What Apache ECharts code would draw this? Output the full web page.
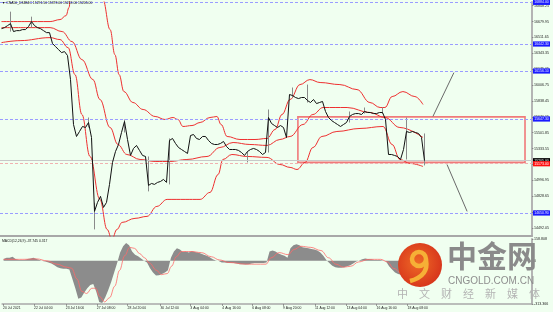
<!DOCTYPE html>
<html><head><meta charset="utf-8">
<script src="https://cdn.jsdelivr.net/npm/echarts@6/dist/echarts.min.js"></script>
<style>html,body{margin:0;padding:0;background:#F0FFF0}#c{width:553px;height:312px}</style>
</head><body><div id="c"></div><script>
// ---- data ----
const closes = [16605,16616,16637,16658,16574,16584,16584,16595,16595,16627,
 16680,16637,16616,16605,16584,16563,16563,16447,16415,16383,
 16351,16362,16320,16065,15589,15462,15515,15568,15557,15610,
 15451,14668,14763,14827,14710,14763,14954,15187,15303,15377,
 15504,15621,15430,15261,15335,15367,15314,15261,15250,14943,
 14964,14954,14975,14985,15007,14975,15420,15441,15388,15345,
 15324,15303,15282,15472,15483,15441,15430,15462,15462,15420,
 15388,15377,15377,15388,15409,15356,15324,15324,15324,15314,
 15292,15261,15303,15324,15335,15324,15303,15271,15292,15663,
 15600,15578,15557,15578,15557,15451,15907,15896,15875,15864,
 15875,15875,15843,15822,15854,15811,15822,15833,15727,15663,
 15631,15610,15589,15568,15589,15610,15674,15695,15705,15705,
 15695,15727,15716,15716,15705,15705,15716,15716,15642,15271,
 15271,15261,15250,15218,15324,15515,15504,15515,15504,15494,
 15451,15205];
// [bar, high, low]
const wicks = [[3,16785,16574],[10,16732,16616],[29,15663,15557],[31,14760,14477],[41,15642,15504],
 [49,15250,14880],[56,15441,14954],[82,15303,15187],[89,15748,15292],[97,15981,15875],[102,16012,15822],
 [116,15727,15610],[121,15769,15705],[127,15769,15705],[135,15663,15218],[141,15494,15155]];
// Bollinger bands [bar, price]
const upperBand = [[0,16680],[7.8,16680],[16.2,16680],[19.5,16701],[21.5,16743],[22.5,16828],[23.2,17018],[26.2,17336],
 [31.2,17230],[33.8,16912],[36.2,16595],[37.8,16330],[39.2,16118],[40.8,15938],[43.8,15822],[47.2,15748],[51.2,15674],
 [54.5,15642],[57.2,15663],[58.8,15642],[60.5,15568],[63.5,15578],[66.2,15610],[69.5,15663],[71.8,15674],[73.2,15589],
 [75.2,15462],[79.5,15430],[84.5,15430],[88.5,15441],[91.2,15536],[93.5,15695],[96.2,15854],[99.5,16012],[102.8,16065],
 [106.2,16034],[112.8,16012],[118.5,15959],[122.8,15822],[126.2,15769],[127.8,15769],[130.2,15885],[133.8,15938],
 [137.8,15885],[140.5,15801]];
const middleBand = [[0,16616],[9.5,16616],[16.2,16616],[20.2,16574],[23.5,16468],[26.8,16277],[30.5,16065],[32.8,15854],
 [36.2,15557],[38.8,15377],[41.8,15271],[46.2,15218],[51.2,15197],[56.2,15197],[61.8,15218],[68.5,15250],[72.8,15345],
 [77.2,15398],[82.8,15377],[88.5,15367],[92.8,15430],[96.2,15462],[100.5,15589],[103.8,15695],[107.2,15769],[115.2,15769],
 [122.8,15716],[127.8,15663],[132.8,15557],[140.5,15451]];
const lowerBand = [[0,16457],[6.2,16478],[16.2,16510],[19.5,16489],[22.2,16404],[24.5,16118],[26.8,15695],[29.5,15250],
 [32.8,14795],[35.2,14477],[36.8,14371],[38.5,14477],[40.2,14551],[44.5,14594],[48.5,14615],[51.8,14721],[55.2,14795],
 [61.2,14795],[66.2,14795],[69.5,14869],[72.2,15059],[73.8,15218],[76.8,15271],[81.8,15250],[88.5,15240],[92.8,15165],
 [96.2,15134],[98.5,15112],[101.2,15187],[103.8,15345],[106.8,15462],[111.8,15515],[119.5,15547],[127.2,15568],
 [130.2,15377],[132.8,15218],[136.2,15176],[140.5,15144]];
const macdHist = [14,22,22,30,14,7,7,7,14,18,
 22,14,7,-1,-5,-12,-20,-31,-46,-54,
 -58,-58,-62,-130,-199,-275,-267,-229,-199,-176,
 -168,-222,-298,-306,-267,-214,-153,-85,-16,60,
 106,129,114,68,45,34,18,0,-12,-54,
 -85,-107,-104,-96,-85,-69,22,68,91,83,
 64,68,60,72,64,60,53,45,37,26,
 11,3,-1,-12,-12,-16,-16,-16,-20,-24,
 -24,-27,-24,-20,-16,-16,-16,-16,-12,68,
 75,68,53,45,37,22,91,114,121,114,
 98,95,91,87,83,75,60,37,7,-16,
 -35,-46,-50,-50,-46,-39,-31,-20,-5,3,
 11,18,14,11,7,7,7,3,-5,-39,
 -62,-85,-96,-100,-92,-69,-54,-46,-42,-40,
 -39,-37.7];
const macdSignal = [[0,11],[6.2,11],[11.2,14],[14.5,0],[17.8,-24],[21.2,-46],[22.8,-54],[24.5,-130],[26.2,-222],
 [27.8,-237],[29.5,-199],[30.8,-199],[32.2,-260],[33.8,-298],[35.5,-267],[37.2,-184],[38.8,-69],[40.5,37],[42.2,98],
 [43.8,91],[45.5,53],[47.2,22],[48.8,-16],[51.2,-69],[52.8,-100],[54.8,-92],[56.2,-39],[57.8,30],[59.5,68],[62.8,68],
 [66.2,60],[69.5,30],[72.2,7],[75.5,-12],[81.2,-24],[87.8,-24],[89.5,22],[92.2,60],[95.2,45],[97.2,83],[99.5,106],
 [102.8,98],[106.2,75],[108.8,22],[111.2,-24],[113.8,-46],[116.2,-39],[118.8,-8],[122.2,11],[126.2,11],[128.5,-8],
 [130.5,-54],[133.2,-92],[136.2,-69],[140.8,-8]];
const priceTicks = ['14492.05','14660.35','14828.65','14996.95','15165.25','15333.55','15501.85','15670.15',
 '15838.45','16006.75','16175.05','16343.35','16511.65','16679.95','16848.25'];
const macdTicks = [-313.366, 0, 158.808];
const timeLabels = ['20 Jul 2021','22 Jul 04:00','23 Jul 16:00','27 Jul 08:00','28 Jul 20:00','30 Jul 12:00',
 '3 Aug 04:00','4 Aug 16:00','6 Aug 08:00','9 Aug 20:00','11 Aug 12:00','13 Aug 04:00','16 Aug 16:00','18 Aug 08:00'];
const timeTickBars = [-0.2,10.2,20.8,31.2,41.5,52.5,62.5,73.2,83.2,93.5,104.2,114.8,124.8,135.2];
const levelLines = [16884.0, 16442.3, 16156.1, 15647.3, 14650.9];
const bidPrice = 15205.00;
const askPrice = 15173.00;
const boxCorners = [[98.8, 15670], [174.5, 15187]];
const projections = [[[143.8, 15674], [150.8, 16139]], [[148.5, 15165], [155.2, 14668]]];
const titleText = '\u25BC CNA50_D34B4C 15291.50 15373.00 15213.00 15205.00';
const macdTitle = 'MACD(12,26,9) -37.745 0.317';

// ---- chart ----
const chart = echarts.init(document.getElementById('c'), null, {renderer:'canvas', width:553, height:312});
const FF = '"Liberation Sans", Arial, sans-serif';
const xMin = -0.5, xMax = 176.83;
const bandStyle = {color:'#ee3030', width:1};
const levelItems = levelLines.map(v => ({
  yAxis: v,
  lineStyle: {color:'#9a9cff', type:[3,2], width:1},
  label: {show:true, position:'end', distance:1, formatter: () => v.toFixed(2),
    backgroundColor:'#1a1aff', color:'#e8e8ff', fontSize:3.5, fontFamily:FF, padding:[0.6,1.2]}
}));
levelItems.push({yAxis: bidPrice, lineStyle:{color:'#c8c8c8', type:'solid', width:1},
  label:{show:true, position:'end', distance:1, formatter: () => bidPrice.toFixed(2),
    backgroundColor:'#000', color:'#fff', fontSize:3.5, fontFamily:FF, padding:[0.6,1.2]}});
levelItems.push({yAxis: askPrice, lineStyle:{color:'#f0b0b0', type:[3,2], width:1},
  label:{show:true, position:'end', distance:1, formatter: () => askPrice.toFixed(2),
    backgroundColor:'#ff1010', color:'#fff', fontSize:3.5, fontFamily:FF, padding:[0.6,1.2]}});

const option = {
  backgroundColor:'#F0FFF0',
  animation:false,
  grid:[
    {left:0, right:21, top:2, height:234},
    {left:0, right:21, top:239, height:65}
  ],
  xAxis:[
    {gridIndex:0, type:'value', min:xMin, max:xMax,
      axisLine:{show:true, onZero:false, lineStyle:{color:'#a8a8a8', width:2}},
      axisTick:{show:false}, axisLabel:{show:false}, splitLine:{show:false}},
    {gridIndex:1, type:'value', min:xMin, max:xMax,
      axisLine:{show:true, onZero:false, lineStyle:{color:'#a8a8a8', width:1.5}},
      axisTick:{show:true, customValues:timeTickBars, length:2, lineStyle:{color:'#666', width:0.6}},
      axisLabel:{customValues:timeTickBars, fontSize:3.4, fontFamily:FF, color:'#222', align:'left', margin:2.5,
        formatter:(v)=>{let b=0,d=1e9;timeTickBars.forEach((t,i)=>{if(Math.abs(t-v)<d){d=Math.abs(t-v);b=i;}});return timeLabels[b];}},
      splitLine:{show:false}}
  ],
  yAxis:[
    {gridIndex:0, type:'value', position:'right', min:14407, max:16887.5,
      axisLine:{show:true, onZero:false, lineStyle:{color:'#b4b4b4', width:2}},
      axisTick:{show:true, customValues:priceTicks.map(Number), length:1.5, lineStyle:{color:'#666', width:0.6}},
      axisLabel:{customValues:priceTicks.map(Number), fontSize:3.6, fontFamily:FF, color:'#222', margin:2,
        formatter:(v)=>Number(v).toFixed(2)},
      splitLine:{show:false}},
    {gridIndex:1, type:'value', position:'right', min:macdTicks[0], max:macdTicks[2],
      axisLine:{show:true, onZero:false, lineStyle:{color:'#b4b4b4', width:2}},
      axisTick:{show:true, customValues:macdTicks, length:1.5, lineStyle:{color:'#666', width:0.6}},
      axisLabel:{customValues:macdTicks, fontSize:3.6, fontFamily:FF, color:'#222', margin:2,
        formatter:(v)=> v===0 ? '0' : Number(v).toFixed(3)},
      splitLine:{show:false}}
  ],
  series:[
    {type:'line', name:'upper', xAxisIndex:0, yAxisIndex:0, data:upperBand, smooth:0.4, smoothMonotone:'x',
      showSymbol:false, symbol:'none', lineStyle:bandStyle, z:3},
    {type:'line', name:'middle', xAxisIndex:0, yAxisIndex:0, data:middleBand, smooth:0.4, smoothMonotone:'x',
      showSymbol:false, symbol:'none', lineStyle:bandStyle, z:3},
    {type:'line', name:'lower', xAxisIndex:0, yAxisIndex:0, data:lowerBand, smooth:0.4, smoothMonotone:'x',
      showSymbol:false, symbol:'none', lineStyle:bandStyle, z:3},
    {type:'lines', coordinateSystem:'cartesian2d', xAxisIndex:0, yAxisIndex:0,
      data:wicks.map(w=>({coords:[[w[0],w[1]],[w[0],w[2]]]})),
      lineStyle:{color:'#8a8a8a', width:1, opacity:1}, z:4},
    {type:'line', name:'price', xAxisIndex:0, yAxisIndex:0, data:closes.map((c,i)=>[i,c]),
      showSymbol:false, symbol:'none', lineStyle:{color:'#111', width:1}, z:5,
      markLine:{silent:true, symbol:['none','none'], animation:false, data:levelItems},
      markArea:{silent:true, data:[[{coord:boxCorners[0]},{coord:boxCorners[1]}]],
        itemStyle:{color:'rgba(0,0,0,0)', borderColor:'#f07a7a', borderWidth:1.6}}},
    {type:'lines', coordinateSystem:'cartesian2d', xAxisIndex:0, yAxisIndex:0,
      data:projections.map(p=>({coords:p})), lineStyle:{color:'#6a6a6a', width:1, opacity:1}, z:4},
    {type:'line', name:'macd', xAxisIndex:1, yAxisIndex:1, data:macdHist.map((v,i)=>[i,v]),
      showSymbol:false, symbol:'none', lineStyle:{width:0}, areaStyle:{color:'#8c8c8c', opacity:1, origin:0}, z:2},
    {type:'line', name:'signal', xAxisIndex:1, yAxisIndex:1, data:macdSignal, smooth:0.4, smoothMonotone:'x',
      showSymbol:false, symbol:'none', lineStyle:{color:'#ff6a6a', width:0.8}, z:3}
  ],
  graphic:[
    {type:'text', x:2, y:1.5, z:50, style:{text:titleText, fontSize:3.4, fontFamily:FF, fill:'#111', align:'left', verticalAlign:'top'}},
    {type:'text', x:2, y:240, z:50, style:{text:macdTitle, fontSize:3.4, fontFamily:FF, fill:'#111', align:'left', verticalAlign:'top'}},
    {type:'circle', z:100, shape:{cx:420, cy:265, r:22},
      style:{fill:new echarts.graphic.RadialGradient(0.45,0.45,0.65,[{offset:0,color:'#ee6a26'},{offset:1,color:'#d42e1a'}])}},
    {type:'arc', z:101, shape:{cx:419, cy:259, r:7, startAngle:0, endAngle:Math.PI*2}, style:{stroke:'#f6b036', lineWidth:4.5, fill:null}},
    {type:'bezierCurve', z:101, shape:{x1:426, y1:260, cpx1:429, cpy1:276, x2:410, y2:281}, style:{stroke:'#f6b036', lineWidth:4.5, fill:null}},
    {type:'text', x:447, y:241, z:100, style:{text:'中金网', fontSize:30, fontWeight:'bold', fontFamily:'"Noto Sans CJK SC"', fill:'#8a8a8a', align:'left', verticalAlign:'top'}},
    {type:'text', x:448, y:276, z:100, style:{text:'CNGOLD.COM.CN', fontSize:10, fontFamily:FF, fill:'#8e8e8e', align:'left', verticalAlign:'top'}},
    {type:'text', x:397, y:288, z:100, style:{text:'中\u3000文\u3000财\u3000经\u3000新\u3000媒\u3000体', fontSize:11, fontFamily:'"Noto Sans CJK SC"', fill:'#b4b4b4', align:'left', verticalAlign:'top'}}
  ]
};
chart.setOption(option);
</script></body></html>
